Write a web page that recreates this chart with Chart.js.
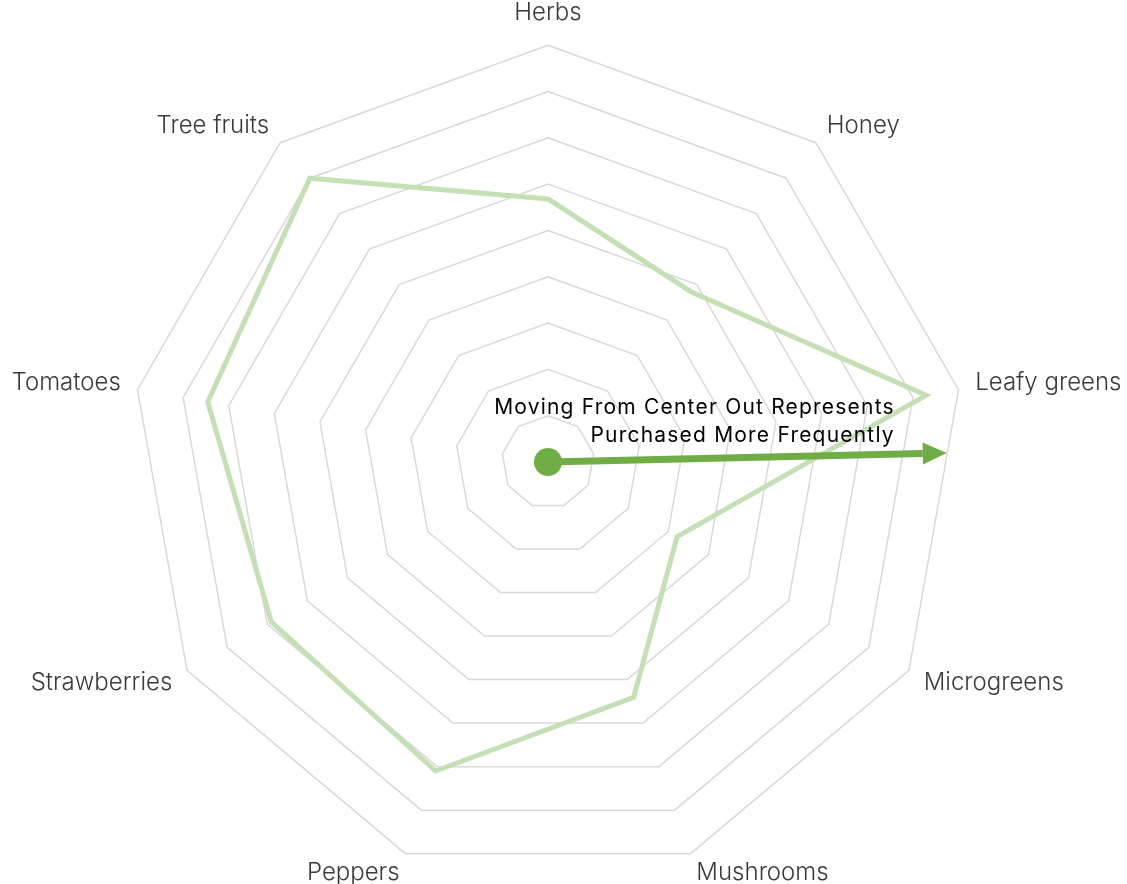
<!DOCTYPE html>
<html>
<head>
<meta charset="utf-8">
<script src="https://cdn.jsdelivr.net/npm/chart.js@4/dist/chart.umd.min.js"></script>
<style>
  html, body { margin: 0; padding: 0; background: #fff; overflow: hidden; }
  /* canvas a bit larger than the window so the radar gets the original's size */
  .chart__container { width: 1159px; height: 906px; margin: -9px 0 0 -16px; }
</style>
</head>
<body>
<div class="chart__container">
  <canvas id="radar"></canvas>
</div>
<script>
const labels = ['Herbs', 'Honey', 'Leafy greens', 'Microgreens', 'Mushrooms',
  'Peppers', 'Strawberries', 'Tomatoes', 'Tree fruits'];
const frequency = [5.68, 4.8, 8.29, 3.22, 5.41, 7.1, 6.9, 7.46, 8.0];
const noteLines = ['Moving From Center Out Represents', 'Purchased More Frequently'];

const lineGreen = '#c5e0b4';
const arrowGreen = '#70ad47';

// arrow from the middle out, with the note above it
const arrowPlugin = {
  id: 'centerArrow',
  afterDatasetsDraw(chart) {
    const scale = chart.scales.r;
    const ctx = chart.ctx;
    const cx = scale.xCenter;
    const cy = scale.yCenter;
    const r = scale.drawingArea;
    const angle = -1.3 * Math.PI / 180;
    const len = r * 0.957;
    const tipX = cx + Math.cos(angle) * len;
    const tipY = cy + Math.sin(angle) * len;
    const headLen = 24;
    const headW = 11;
    const bx = tipX - Math.cos(angle) * headLen;
    const by = tipY - Math.sin(angle) * headLen;

    ctx.save();
    ctx.strokeStyle = arrowGreen;
    ctx.fillStyle = arrowGreen;
    ctx.lineWidth = 7;
    ctx.beginPath();
    ctx.moveTo(cx, cy);
    ctx.lineTo(bx, by);
    ctx.stroke();

    ctx.beginPath();
    ctx.arc(cx, cy, 14, 0, Math.PI * 2);
    ctx.fill();

    ctx.beginPath();
    ctx.moveTo(tipX, tipY);
    ctx.lineTo(bx - Math.sin(angle) * headW, by + Math.cos(angle) * headW);
    ctx.lineTo(bx + Math.sin(angle) * headW, by - Math.cos(angle) * headW);
    ctx.closePath();
    ctx.fill();

    ctx.fillStyle = '#000';
    ctx.font = '400 21px Inter';
    ctx.letterSpacing = '1.2px';
    ctx.textAlign = 'right';
    ctx.textBaseline = 'alphabetic';
    const textX = cx + r * 0.832;
    ctx.fillText(noteLines[0], textX, cy - 48.5);
    ctx.fillText(noteLines[1], textX, cy - 20.5);
    ctx.restore();
  }
};

new Chart(document.getElementById('radar'), {
  type: 'radar',
  data: {
    labels,
    datasets: [{
      label: 'Frequency',
      data: frequency,
      borderColor: lineGreen,
      backgroundColor: 'transparent',
      borderWidth: 5,
      pointRadius: 0,
      fill: false
    }]
  },
  options: {
    responsive: true,
    maintainAspectRatio: false,
    animation: false,
    layout: { padding: 0 },
    plugins: {
      legend: { display: false },
      tooltip: { enabled: false }
    },
    scales: {
      r: {
        min: 0,
        max: 9,
        ticks: { stepSize: 1, display: false },
        angleLines: { display: false },
        grid: { color: '#d9d9d9', lineWidth: 1.5 },
        pointLabels: {
          color: '#3a3a3a',
          padding: (ctx) => ctx.index === 0 ? 29 : 17,
          font: { family: 'Inter', size: 24, weight: '300', lineHeight: 0.3 }
        }
      }
    }
  },
  plugins: [arrowPlugin]
});
</script>
</body>
</html>
